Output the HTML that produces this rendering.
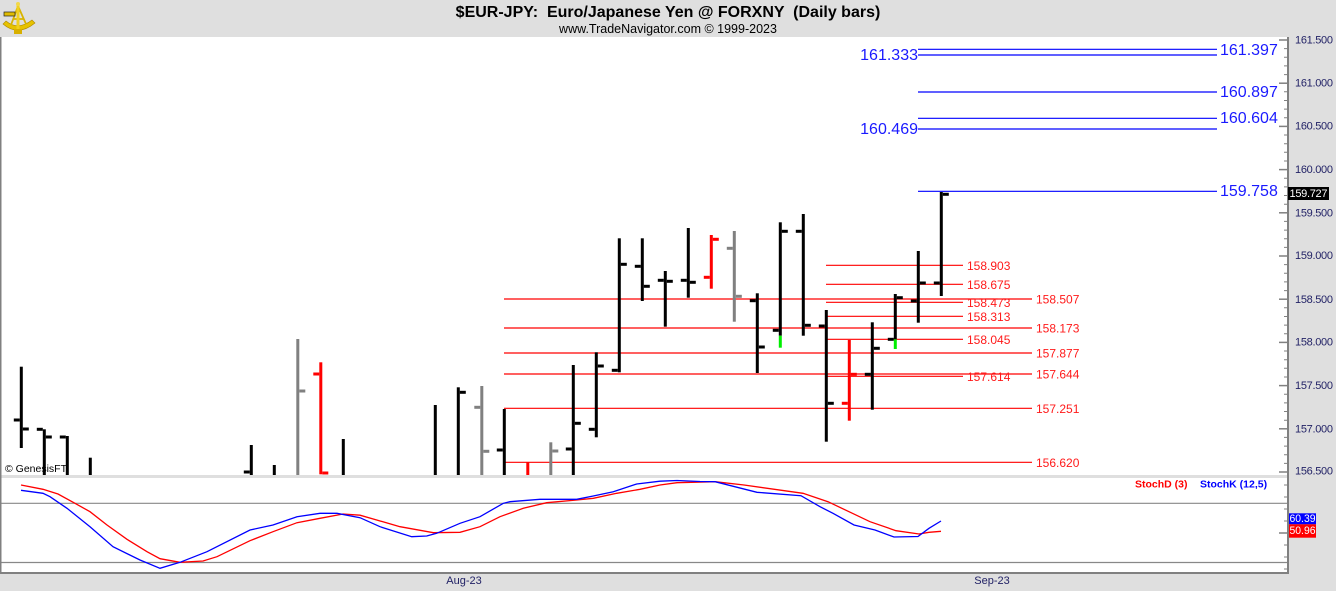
<!DOCTYPE html>
<html><head><meta charset="utf-8"><style>
html,body{margin:0;padding:0;background:#dfdfdf;}
svg{display:block;font-family:"Liberation Sans",Arial,sans-serif;}
</style></head><body>
<svg width="1336" height="591" viewBox="0 0 1336 591" xmlns="http://www.w3.org/2000/svg">
<defs><clipPath id="mc"><rect x="0" y="37" width="1287" height="438"/></clipPath></defs>
<rect width="1336" height="591" fill="#dfdfdf"/>
<rect x="0" y="37" width="1288" height="438" fill="#fff"/>
<rect x="0" y="478" width="1288" height="94" fill="#fff"/>
<rect x="0" y="572" width="1289" height="2" fill="#808080"/>
<rect x="0" y="37" width="1.5" height="537" fill="#808080"/>
<rect x="1287" y="37" width="2" height="537" fill="#808080"/>

<!-- logo -->
<g>
<path d="M3,24 Q18,37 35,23 L32,20 Q18,31 6,21 Z" fill="#e6c200" stroke="#b08a00" stroke-width="0.6"/>
<path d="M18,6 L11,25 M18,6 L26,24 M13,19 L24,19" stroke="#d8b400" stroke-width="1.8" fill="none"/>
<rect x="16.5" y="4" width="3" height="26" fill="#f0d020"/>
<rect x="4" y="12" width="11" height="4" fill="#e0bc00" stroke="#222" stroke-width="0.7"/>
<circle cx="18" cy="4" r="2" fill="#f2d84a"/>
<rect x="14" y="29" width="8" height="5" fill="#d8b000"/>
</g>

<!-- title -->
<text x="668" y="17" text-anchor="middle" font-size="16" font-weight="bold" fill="#000" style="white-space:pre" xml:space="preserve">$EUR-JPY:  Euro/Japanese Yen @ FORXNY  (Daily bars)</text>
<text x="668" y="33" text-anchor="middle" font-size="12.5" fill="#000">www.TradeNavigator.com © 1999-2023</text>

<!-- right axis ticks (main) -->
<g stroke="#808080" stroke-width="1.5">
<line x1="1279" y1="40" x2="1287" y2="40"/><line x1="1279" y1="83.2" x2="1287" y2="83.2"/>
<line x1="1279" y1="126.4" x2="1287" y2="126.4"/><line x1="1279" y1="169.6" x2="1287" y2="169.6"/>
<line x1="1279" y1="212.8" x2="1287" y2="212.8"/><line x1="1279" y1="256" x2="1287" y2="256"/>
<line x1="1279" y1="299.2" x2="1287" y2="299.2"/><line x1="1279" y1="342.4" x2="1287" y2="342.4"/>
<line x1="1279" y1="385.6" x2="1287" y2="385.6"/><line x1="1279" y1="428.8" x2="1287" y2="428.8"/>
<line x1="1279" y1="472" x2="1287" y2="472"/>
</g>
<g stroke="#808080" stroke-width="1">
<path d="M1284 48.6H1287M1284 57.3H1287M1284 65.9H1287M1284 74.6H1287
M1284 91.8H1287M1284 100.5H1287M1284 109.1H1287M1284 117.8H1287
M1284 135H1287M1284 143.7H1287M1284 152.3H1287M1284 161H1287
M1284 178.2H1287M1284 186.9H1287M1284 195.5H1287M1284 204.2H1287
M1284 221.4H1287M1284 230.1H1287M1284 238.7H1287M1284 247.4H1287
M1284 264.6H1287M1284 273.3H1287M1284 281.9H1287M1284 290.6H1287
M1284 307.8H1287M1284 316.5H1287M1284 325.1H1287M1284 333.8H1287
M1284 351H1287M1284 359.7H1287M1284 368.3H1287M1284 377H1287
M1284 394.2H1287M1284 402.9H1287M1284 411.5H1287M1284 420.2H1287
M1284 437.4H1287M1284 446.1H1287M1284 454.7H1287M1284 463.4H1287"/>
<path d="M1284 485H1287M1284 497H1287M1284 509H1287M1284 521H1287M1284 545H1287M1284 557H1287M1284 569H1287"/>
</g>
<line x1="1279" y1="533" x2="1287" y2="533" stroke="#808080" stroke-width="1.5"/>

<g font-size="11" fill="#222266" dominant-baseline="central">
<text x="1295" y="40.5" textLength="38">161.500</text><text x="1295" y="83.5" textLength="38">161.000</text>
<text x="1295" y="126.7" textLength="38">160.500</text><text x="1295" y="170" textLength="38">160.000</text>
<text x="1295" y="213.3" textLength="38">159.500</text><text x="1295" y="256" textLength="38">159.000</text>
<text x="1295" y="300" textLength="38">158.500</text><text x="1295" y="342.7" textLength="38">158.000</text>
<text x="1295" y="386" textLength="38">157.500</text><text x="1295" y="429.3" textLength="38">157.000</text>
<text x="1295" y="471.7" textLength="38">156.500</text>
</g>
<rect x="1288" y="187" width="41" height="13" fill="#000"/>
<text x="1289.5" y="193.8" font-size="11" fill="#fff" dominant-baseline="central" textLength="38">159.727</text>

<!-- blue lines -->
<g stroke="#0000ff" stroke-width="1.2">
<line x1="918" y1="49.3" x2="1217" y2="49.3"/>
<line x1="918" y1="55" x2="1217" y2="55"/>
<line x1="918" y1="92" x2="1217" y2="92"/>
<line x1="918" y1="118.3" x2="1217" y2="118.3"/>
<line x1="918" y1="129" x2="1217" y2="129"/>
<line x1="918" y1="191.3" x2="1217" y2="191.3"/>
</g>
<g font-size="16" fill="#1a1aff" dominant-baseline="central">
<text x="1220" y="50.5">161.397</text>
<text x="1220" y="92.7">160.897</text>
<text x="1220" y="118.5">160.604</text>
<text x="1220" y="191.5">159.758</text>
<text x="918" y="55.5" text-anchor="end">161.333</text>
<text x="918" y="129.5" text-anchor="end">160.469</text>
</g>

<!-- red lines -->
<g stroke="#ff0000" stroke-width="1.2">
<line x1="504" y1="299" x2="1032" y2="299"/>
<line x1="504" y1="328" x2="1032" y2="328"/>
<line x1="504" y1="353" x2="1032" y2="353"/>
<line x1="504" y1="374" x2="1032" y2="374"/>
<line x1="504" y1="408.3" x2="1032" y2="408.3"/>
<line x1="504" y1="462.3" x2="1032" y2="462.3"/>
<line x1="826" y1="265.3" x2="963" y2="265.3"/>
<line x1="826" y1="284.3" x2="963" y2="284.3"/>
<line x1="826" y1="302.3" x2="963" y2="302.3"/>
<line x1="826" y1="316.3" x2="963" y2="316.3"/>
<line x1="826" y1="339.3" x2="963" y2="339.3"/>
<line x1="826" y1="376.3" x2="963" y2="376.3"/>
</g>
<g font-size="12" fill="#ff1a1a" dominant-baseline="central">
<text x="1036" y="299.5">158.507</text>
<text x="1036" y="328.5">158.173</text>
<text x="1036" y="353.5">157.877</text>
<text x="1036" y="374.5">157.644</text>
<text x="1036" y="408.8">157.251</text>
<text x="1036" y="462.8">156.620</text>
<text x="967" y="265.8">158.903</text>
<text x="967" y="284.8">158.675</text>
<text x="967" y="302.8">158.473</text>
<text x="967" y="316.8">158.313</text>
<text x="967" y="339.8">158.045</text>
<text x="967" y="376.8">157.614</text>
</g>

<!-- bars -->
<g clip-path="url(#mc)">
<g fill="#000">
<rect x="19.8" y="366.7" width="3" height="81.3"/><rect x="13.8" y="418.5" width="6" height="3"/><rect x="22.8" y="427.5" width="6" height="3"/>
<rect x="42.8" y="429.3" width="3" height="50"/><rect x="36.8" y="427.8" width="6" height="3"/><rect x="45.8" y="435.5" width="6" height="3"/>
<rect x="65.8" y="436" width="3" height="50"/><rect x="59.8" y="435.5" width="6" height="3"/>
<rect x="88.8" y="457.7" width="3" height="30"/>
<rect x="249.8" y="445" width="3" height="40"/><rect x="243.8" y="470.5" width="6" height="3"/>
<rect x="272.8" y="465" width="3" height="20"/>
<rect x="341.8" y="439" width="3" height="40"/>
<rect x="433.8" y="405" width="3" height="80"/>
<rect x="456.8" y="387.3" width="3" height="95"/><rect x="459.8" y="390.8" width="6" height="3"/>
<rect x="502.8" y="409" width="3" height="80"/><rect x="496.8" y="448.5" width="6" height="3"/>
<rect x="571.8" y="365" width="3" height="120"/><rect x="565.8" y="447.5" width="6" height="3"/><rect x="574.8" y="421.8" width="6" height="3"/>
<rect x="594.8" y="352.3" width="3" height="85"/><rect x="588.8" y="427.8" width="6" height="3"/><rect x="597.8" y="364.5" width="6" height="3"/>
<rect x="617.8" y="238.3" width="3" height="134"/><rect x="611.8" y="368.8" width="6" height="3"/><rect x="620.8" y="262.8" width="6" height="3"/>
<rect x="640.8" y="238.3" width="3" height="62.7"/><rect x="634.8" y="264.8" width="6" height="3"/><rect x="643.8" y="284.8" width="6" height="3"/>
<rect x="663.8" y="271" width="3" height="55.7"/><rect x="657.8" y="278.8" width="6" height="3"/><rect x="666.8" y="279.8" width="6" height="3"/>
<rect x="686.8" y="228" width="3" height="69.7"/><rect x="680.8" y="278.8" width="6" height="3"/><rect x="689.8" y="280.8" width="6" height="3"/>
<rect x="755.8" y="293.3" width="3" height="79.7"/><rect x="749.8" y="299.2" width="6" height="3"/><rect x="758.8" y="345.5" width="6" height="3"/>
<rect x="778.8" y="222.3" width="3" height="113.4"/><rect x="772.8" y="328.8" width="6" height="3"/><rect x="781.8" y="229.8" width="6" height="3"/>
<rect x="801.8" y="214" width="3" height="121.7"/><rect x="795.8" y="229.8" width="6" height="3"/><rect x="804.8" y="323.8" width="6" height="3"/>
<rect x="824.8" y="310" width="3" height="131.7"/><rect x="818.8" y="324.5" width="6" height="3"/><rect x="827.8" y="401.8" width="6" height="3"/>
<rect x="870.8" y="322.3" width="3" height="87.4"/><rect x="864.8" y="372.8" width="6" height="3"/><rect x="873.8" y="346.8" width="6" height="3"/>
<rect x="893.8" y="294" width="3" height="45.3"/><rect x="887.8" y="337.8" width="6" height="3"/><rect x="896.8" y="296.2" width="6" height="3"/>
<rect x="916.8" y="251" width="3" height="71.7"/><rect x="910.8" y="299.5" width="6" height="3"/><rect x="919.8" y="281.5" width="6" height="3"/>
<rect x="939.8" y="192" width="3" height="104"/><rect x="933.8" y="281.5" width="6" height="3"/><rect x="942.8" y="192.8" width="6" height="3"/>
</g>
<g fill="#808080">
<rect x="296.3" y="339" width="3" height="140"/><rect x="299.3" y="389.5" width="6" height="3"/>
<rect x="480.3" y="386" width="3" height="95"/><rect x="474.3" y="405.8" width="6" height="3"/><rect x="483.3" y="449.8" width="6" height="3"/>
<rect x="549.3" y="442.3" width="3" height="40"/><rect x="552.3" y="449.5" width="6" height="3"/>
<rect x="732.8" y="231" width="3" height="90.7"/><rect x="726.8" y="246.8" width="6" height="3"/><rect x="735.8" y="294.8" width="6" height="3"/>
</g>
<g fill="#ff0000">
<rect x="319.3" y="362.3" width="3" height="112"/><rect x="313.3" y="372.5" width="6" height="3"/><rect x="322.3" y="471.5" width="6" height="3"/>
<rect x="526.3" y="462.3" width="3" height="20"/>
<rect x="709.8" y="235" width="3" height="53.7"/><rect x="703.8" y="275.8" width="6" height="3"/><rect x="712.8" y="237.8" width="6" height="3"/>
<rect x="847.8" y="340" width="3" height="80.7"/><rect x="841.8" y="401.8" width="6" height="3"/><rect x="850.8" y="372.8" width="6" height="3"/>
</g>
<g fill="#00ee00">
<rect x="778.8" y="335.7" width="3" height="12"/>
<rect x="893.8" y="339.3" width="3" height="9.7"/>
</g>
</g>
<text x="5" y="469" font-size="10.5" fill="#000" dominant-baseline="central">© GenesisFT</text>

<!-- stochastic panel -->
<line x1="1.5" y1="503.3" x2="1287" y2="503.3" stroke="#888" stroke-width="1.2"/>
<line x1="1.5" y1="562.5" x2="1287" y2="562.5" stroke="#888" stroke-width="1.2"/>
<polyline fill="none" stroke="#ff0000" stroke-width="1.3" points="21,485 43,489.3 58,494 75,503.3 90,511.7 107,525 127,539.3 147,551.7 160,558.7 180,562.3 203,561 217,556.7 250,540.7 273,531.7 297,522.7 320,518.3 343,514 360,515.2 376.7,520 400,526.7 433.3,532.7 460,532.3 480,526.7 500,516.7 523.3,508.3 546.7,502.7 576.7,500 593.3,498.3 616.7,493.3 640,489.3 660,485 677,482.7 715,481.7 744,485 803,493.3 828,501.7 849,511.7 870,521.7 896,530.7 919,534 929,532.3 941,531.3"/>
<polyline fill="none" stroke="#0000ff" stroke-width="1.3" points="21,490.3 43,493.3 50,496.7 67,508.3 90,526.7 113,546.7 140,560 160,568.3 180,562.3 207,551.7 250,530 273,525 297,516.7 320,513.3 337,513.3 360,517.7 380,526.7 411.7,536.7 426.7,536 436.7,533.3 460,523.3 480,516.7 503.3,503.3 510,501.7 540,499.3 560,499.3 576.7,499.3 593.3,496 613.3,491.7 636.7,484 660,481.2 677,480.5 700,481.5 715,481.7 757,492.3 801,495.7 820,506.7 833,513.3 854,525 875,530 894,537 918,536.5 929,528.3 941,521"/>
<text x="1135" y="484.5" font-size="10.5" font-weight="bold" fill="#ff0000" dominant-baseline="central">StochD (3)</text>
<text x="1200" y="484.5" font-size="10.5" font-weight="bold" fill="#0000ff" dominant-baseline="central">StochK (12,5)</text>
<rect x="1289" y="513.3" width="27" height="11" fill="#0000ff"/>
<rect x="1289" y="524.3" width="27" height="13.4" fill="#ff0000"/>
<text x="1289.5" y="519" font-size="11" fill="#fff" dominant-baseline="central" textLength="26" lengthAdjust="spacingAndGlyphs">60.39</text>
<text x="1289.5" y="531" font-size="11" fill="#fff" dominant-baseline="central" textLength="26" lengthAdjust="spacingAndGlyphs">50.96</text>

<!-- date labels -->
<text x="464" y="581" font-size="11" fill="#222266" text-anchor="middle" dominant-baseline="central">Aug-23</text>
<text x="992" y="581" font-size="11" fill="#222266" text-anchor="middle" dominant-baseline="central">Sep-23</text>
</svg>
</body></html>
